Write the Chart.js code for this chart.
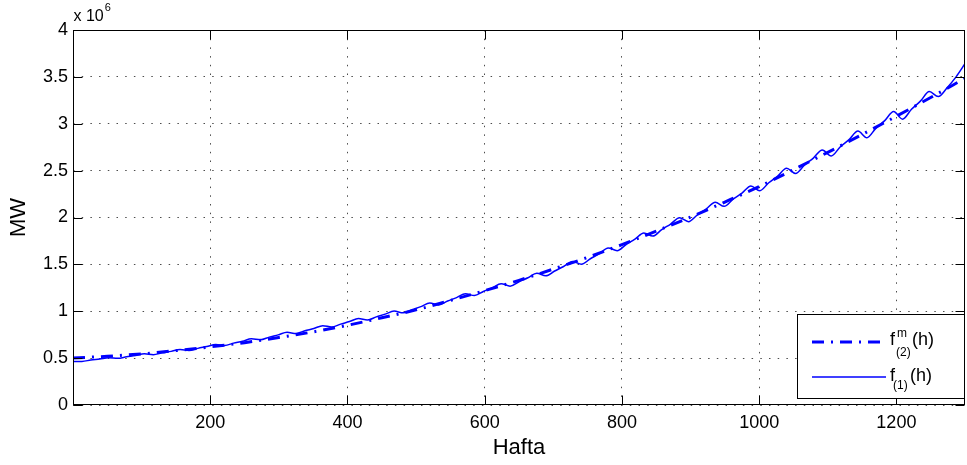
<!DOCTYPE html>
<html lang="tr">
<head>
<meta charset="UTF-8">
<title>Haftalık yük</title>
<script src="https://cdn.jsdelivr.net/npm/chart.js"></script>
<style>
  body { margin: 0; background: #fff; }
  canvas { display: block; }
</style>
</head>
<body>
<canvas id="yukChart" width="967" height="465"></canvas>
<script>
// values in units of 10^6 MW
var trendWeeks = [0, 50, 100, 150, 200, 250, 300, 350, 400, 450, 500, 550, 600, 650,
  700, 750, 800, 850, 900, 950, 1000, 1050, 1100, 1150, 1200, 1250, 1300];
var trendMW = [0.500, 0.520, 0.545, 0.580, 0.620, 0.665, 0.720, 0.780, 0.850, 0.930,
  1.015, 1.115, 1.220, 1.330, 1.450, 1.575, 1.710, 1.855, 2.005, 2.165,
  2.330, 2.510, 2.695, 2.885, 3.080, 3.280, 3.485];

var weeks = [0, 13, 26, 39, 52, 65, 78, 91, 104, 117,
  130, 143, 156, 169, 182, 195, 208, 221, 234, 247,
  260, 273, 286, 299, 312, 325, 338, 351, 364, 377,
  390, 403, 416, 429, 442, 455, 468, 481, 494, 507,
  520, 533, 546, 559, 572, 585, 598, 611, 624, 637,
  650, 663, 676, 689, 702, 715, 728, 741, 754, 767,
  780, 793, 806, 819, 832, 845, 858, 871, 884, 897,
  910, 923, 936, 949, 962, 975, 988, 1001, 1014, 1027,
  1040, 1053, 1066, 1079, 1092, 1105, 1118, 1131, 1144, 1157,
  1170, 1183, 1196, 1209, 1222, 1235, 1248, 1261, 1274, 1287,
  1300];
var loadMW = [0.465, 0.465, 0.480, 0.491, 0.505, 0.498, 0.514, 0.529, 0.546, 0.537,
  0.556, 0.572, 0.592, 0.582, 0.604, 0.624, 0.645, 0.636, 0.660, 0.680,
  0.706, 0.696, 0.724, 0.748, 0.775, 0.763, 0.792, 0.816, 0.846, 0.832,
  0.863, 0.890, 0.923, 0.906, 0.940, 0.969, 1.002, 0.983, 1.017, 1.049,
  1.087, 1.068, 1.109, 1.145, 1.187, 1.167, 1.211, 1.250, 1.294, 1.268,
  1.315, 1.357, 1.405, 1.378, 1.429, 1.477, 1.531, 1.502, 1.560, 1.614,
  1.676, 1.646, 1.711, 1.770, 1.836, 1.802, 1.871, 1.930, 1.997, 1.956,
  2.029, 2.092, 2.163, 2.119, 2.196, 2.261, 2.337, 2.286, 2.371, 2.442,
  2.525, 2.469, 2.559, 2.634, 2.721, 2.657, 2.752, 2.831, 2.922, 2.851,
  2.951, 3.033, 3.130, 3.049, 3.154, 3.241, 3.343, 3.290, 3.385, 3.500,
  3.640];

var xTickValues = [200, 400, 600, 800, 1000, 1200];
var yTickValues = [0, 0.5, 1, 1.5, 2, 2.5, 3, 3.5, 4];

var FONT = '"Liberation Sans", Arial, Helvetica, sans-serif';
var BLUE = '#0000ff';
var DASH_DOT = [12, 7, 2, 7];

function toPoints(xs, ys) {
  return xs.map(function (x, i) { return { x: x, y: ys[i] }; });
}

// box, inward ticks, exponent label and legend
var axesDecor = {
  id: 'axesDecor',
  afterDraw: function (chart) {
    var ctx = chart.ctx, a = chart.chartArea;
    var xs = chart.scales.x, ys = chart.scales.y;
    var L = Math.round(a.left) + 0.5, R = Math.round(a.right) - 0.5;
    var T = Math.round(a.top) + 0.5, B = Math.round(a.bottom) - 0.5;
    ctx.save();
    ctx.strokeStyle = '#000';
    ctx.lineWidth = 1;
    ctx.beginPath();
    xTickValues.forEach(function (v) {
      var px = Math.round(xs.getPixelForValue(v)) + 0.5;
      ctx.moveTo(px, B); ctx.lineTo(px, B - 9);
      ctx.moveTo(px, T); ctx.lineTo(px, T + 9);
    });
    yTickValues.forEach(function (v) {
      var py = Math.round(ys.getPixelForValue(v)) + 0.5;
      ctx.moveTo(L, py); ctx.lineTo(L + 9, py);
      ctx.moveTo(R, py); ctx.lineTo(R - 9, py);
    });
    ctx.stroke();
    ctx.strokeRect(L, T, R - L, B - T);

    // x 10^6
    ctx.fillStyle = '#000';
    ctx.textBaseline = 'alphabetic';
    ctx.textAlign = 'left';
    ctx.font = '16px ' + FONT;
    ctx.fillText('x 10', L, 21);
    var w = ctx.measureText('x 10').width;
    ctx.font = '11px ' + FONT;
    ctx.fillText('6', L + w + 1, 11);

    // legend
    var lx = 797.5, ly = 314.5, lw = R - lx, lh = 84;
    ctx.fillStyle = '#fff';
    ctx.fillRect(lx, ly, lw, lh);
    ctx.strokeRect(lx, ly, lw, lh);

    ctx.strokeStyle = BLUE;
    ctx.lineWidth = 3;
    ctx.setLineDash(DASH_DOT);
    ctx.beginPath(); ctx.moveTo(812, 342); ctx.lineTo(886, 342); ctx.stroke();
    ctx.setLineDash([]);
    ctx.lineWidth = 1.5;
    ctx.beginPath(); ctx.moveTo(812, 377); ctx.lineTo(886, 377); ctx.stroke();

    ctx.fillStyle = '#000';
    ctx.font = '18px ' + FONT;
    ctx.fillText('f', 890, 345);
    ctx.fillText('(h)', 912, 345);
    ctx.fillText('f', 890, 381);
    ctx.fillText('(h)', 910, 381);
    ctx.font = '12px ' + FONT;
    ctx.fillText('m', 897, 337);
    ctx.fillText('(2)', 896, 356);
    ctx.fillText('(1)', 893, 389);
    ctx.restore();
  }
};

var ctx = document.getElementById('yukChart').getContext('2d');
new Chart(ctx, {
  type: 'line',
  data: {
    datasets: [{
      label: 'f(2)m(h)',
      data: toPoints(trendWeeks, trendMW),
      borderColor: BLUE,
      borderWidth: 3,
      borderDash: DASH_DOT,
      pointRadius: 0,
      cubicInterpolationMode: 'monotone',
      fill: false
    }, {
      label: 'f(1)(h)',
      data: toPoints(weeks, loadMW),
      borderColor: BLUE,
      borderWidth: 1.5,
      pointRadius: 0,
      cubicInterpolationMode: 'monotone',
      fill: false
    }]
  },
  options: {
    responsive: false,
    animation: false,
    devicePixelRatio: 1,
    layout: { padding: { top: 30, right: 2, left: 0, bottom: 0 } },
    plugins: { legend: { display: false }, tooltip: { enabled: false } },
    scales: {
      x: {
        type: 'linear',
        min: 0,
        max: 1300,
        afterBuildTicks: function (s) { s.ticks = xTickValues.map(function (v) { return { value: v }; }); },
        afterFit: function (s) { s.height = 60; },
        ticks: { color: '#000', padding: 7, font: { family: FONT, size: 18 }, maxRotation: 0,
          callback: function (v) { return String(v); } },
        grid: { color: 'rgba(0,0,0,0.7)', lineWidth: 1, drawTicks: false },
        border: { display: false, dash: [1.5, 7.2] },
        title: { display: true, text: 'Hafta', color: '#000', font: { family: FONT, size: 22 },
          padding: { top: 0, bottom: 4 } }
      },
      y: {
        min: 0,
        max: 4,
        afterBuildTicks: function (s) { s.ticks = yTickValues.map(function (v) { return { value: v }; }); },
        afterFit: function (s) { s.width = 73; },
        ticks: { color: '#000', padding: 5, font: { family: FONT, size: 18 },
          callback: function (v) { return String(v); } },
        grid: { color: 'rgba(0,0,0,0.7)', lineWidth: 1, drawTicks: false },
        border: { display: false, dash: [1.5, 7.2] },
        title: { display: true, text: 'MW', color: '#000', font: { family: FONT, size: 22 },
          padding: { top: 6, bottom: 0 } }
      }
    }
  },
  plugins: [axesDecor]
});
</script>
</body>
</html>
